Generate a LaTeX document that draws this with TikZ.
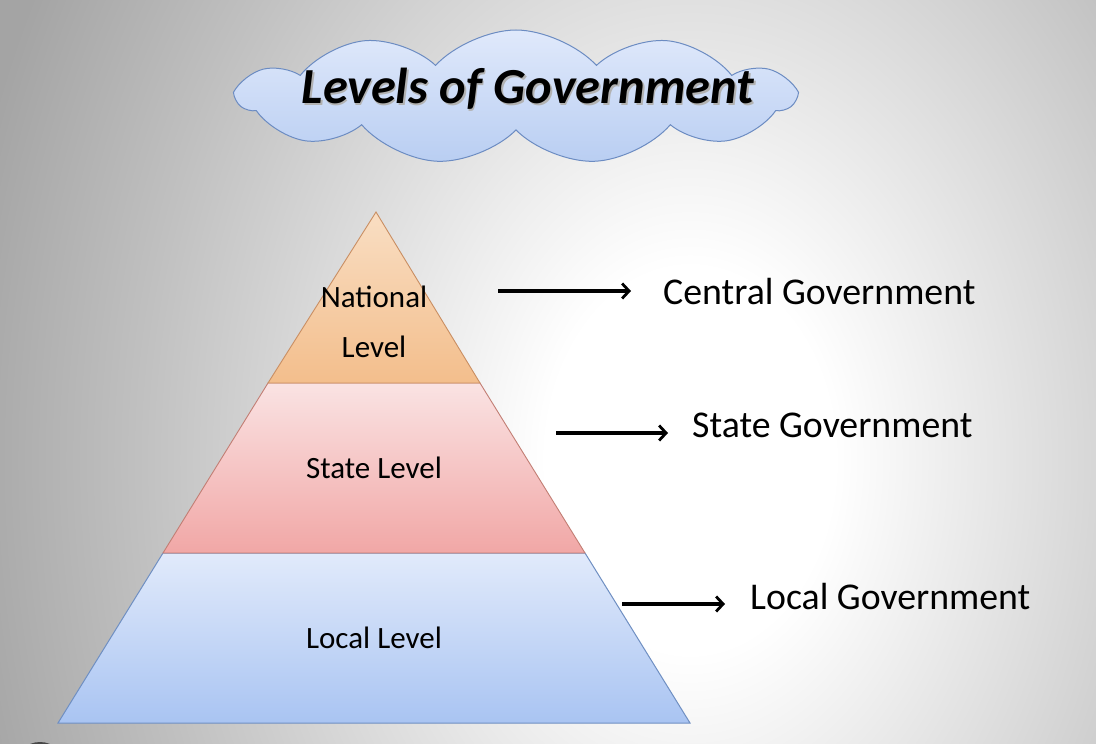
\documentclass[tikz,border=0pt]{standalone}
\usepackage{fontspec}
\setmainfont{Carlito}
\usetikzlibrary{shapes.symbols,arrows.meta,shadings}
\definecolor{bgA}{HTML}{DADADA}
\definecolor{bgB}{HTML}{C0C0C0}
\definecolor{bgC}{HTML}{A4A4A4}
\definecolor{natTop}{HTML}{F9DEC3}
\definecolor{natBot}{HTML}{F3BE8C}
\definecolor{natLine}{HTML}{C98E62}
\definecolor{staTop}{HTML}{FAE3E3}
\definecolor{staBot}{HTML}{F1A7A6}
\definecolor{staLine}{HTML}{C27E74}
\definecolor{locTop}{HTML}{E1EAFB}
\definecolor{locBot}{HTML}{A9C4F2}
\definecolor{locLine}{HTML}{6F8FC2}
\definecolor{cloudTop}{HTML}{E0E9FB}
\definecolor{cloudBot}{HTML}{B9CEF2}
\definecolor{cloudLine}{HTML}{6C8CC2}
\pgfdeclareradialshading{bgshade}{\pgfpoint{0bp}{0bp}}{color(0bp)=(white); color(3bp)=(white); color(8bp)=(bgA); color(11.5bp)=(bgB); color(15.5bp)=(bgC); color(50bp)=(bgC)}
\tikzset{
  lvltext/.style={font=\fontsize{31}{34}\selectfont, inner sep=0pt, anchor=base},
  govtext/.style={font=\fontsize{37.8}{41}\selectfont, inner sep=0pt, anchor=base west},
  govarrow/.style={line width=3.4pt, -{Straight Barb[length=7pt,width=15pt,line width=2.8pt]}},
  titletext/.style={font=\fontsize{50.5}{54}\selectfont\bfseries\itshape, inner sep=0pt},
}
\begin{document}
\begin{tikzpicture}[x=1pt,y=-1pt]
\useasboundingbox (0,0) rectangle (1096,744);
\begin{scope}
\clip (0,0) rectangle (1096,744);
\fill[bgC] (0,0) rectangle (1096,744);
\shade[shading=bgshade] (690,460) ellipse [x radius=1200, y radius=1600];
\fill[black!72] (40,768) circle (26);
\end{scope}
% cloud
\node[cloud, cloud puffs=11, cloud puff arc=95, aspect=4.3,
      minimum width=556, minimum height=134, inner sep=0pt,
      top color=cloudTop, bottom color=cloudBot, draw=cloudLine, line width=1pt]
      (cloud) at (516,97) {};
\node[titletext, text=black!30] at (529.5,90.5) {Levels of Government};
\node[titletext] (title) at (528,89) {Levels of Government};
% pyramid
\coordinate (apex) at (376,212);
\coordinate (n1) at (268,383);
\coordinate (n2) at (480,383);
\coordinate (s1) at (163,553);
\coordinate (s2) at (585,553);
\coordinate (b1) at (58,723);
\coordinate (b2) at (690,723);
\shade[top color=locTop, bottom color=locBot] (s1) -- (s2) -- (b2) -- (b1) -- cycle;
\draw[locLine, line width=1pt] (s1) -- (s2) -- (b2) -- (b1) -- cycle;
\shade[top color=staTop, bottom color=staBot] (n1) -- (n2) -- (s2) -- (s1) -- cycle;
\draw[staLine, line width=0.9pt] (n1) -- (n2) -- (s2) -- (s1) -- cycle;
\shade[top color=natTop, bottom color=natBot] (apex) -- (n2) -- (n1) -- cycle;
\draw[natLine, line width=0.9pt] (apex) -- (n2) -- (n1) -- cycle;
% level texts
\node[lvltext] (nat1) at (374,307) {National};
\node[lvltext] (nat2) at (374,357) {Level};
\node[lvltext] (sta) at (374,478) {State Level};
\node[lvltext] (loc) at (374,648) {Local Level};
% government labels
\node[govtext] (cg) at (663,304) {Central Government};
\node[govtext] (sg) at (692,437) {State Government};
\node[govtext] (lg) at (750,609) {Local Government};
\coordinate (a1s) at (498,291);
\coordinate (a1e) at (631,291);
\coordinate (a2s) at (556,433);
\coordinate (a2e) at (668,433);
\coordinate (a3s) at (622,604);
\coordinate (a3e) at (725,604);
\draw[govarrow] (a1s) -- (a1e);
\draw[govarrow] (a2s) -- (a2e);
\draw[govarrow] (a3s) -- (a3e);
\end{tikzpicture}
\end{document}
